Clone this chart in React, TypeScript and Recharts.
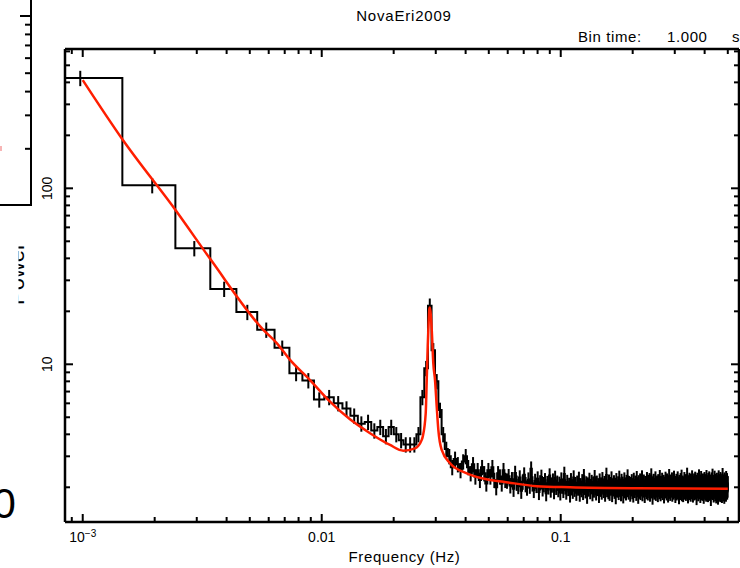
import React from "react";
import { ComposedChart, Line, XAxis, YAxis, ErrorBar } from "recharts";

// ---------------- data ----------------
// Power spectrum (Leahy normalised) of NovaEri2009, 1 s bins, 1024-s segments
const BIN_WIDTH_HZ = 1 / 1024;
const SEGMENTS = 100; // averaged segments -> error = P / sqrt(SEGMENTS)

// bins 1..30
const POWER_LOW = [
  423, 104, 45.6, 26.8, 19.8, 15.7, 12.4, 8.9, 8.1, 6.3,
  6.5, 6.0, 5.6, 5.1, 4.6, 4.7, 4.2, 4.4, 3.9, 4.4,
  4.0, 3.7, 3.5, 3.5, 3.5, 4.0, 6.5, 9.5, 21.5, 12.0,
];
// bins 31..60
const POWER_MID = [
  8.0, 5.5, 4.0, 3.3, 3.0, 2.6, 2.9, 2.7, 2.5, 2.8,
  3.0, 2.6, 2.4, 2.7, 2.3, 2.5, 2.2, 2.6, 2.4, 2.1,
  2.5, 2.3, 2.6, 2.2, 2.0, 2.4, 2.3, 2.1, 2.5, 2.2,
];
// bins 61..512
const POWER_HIGH = [
  2.18, 2.31, 2.05, 2.22, 1.96, 2.41, 2.12, 2.03, 2.27, 1.91, 2.15, 2.36, 2.08, 1.99, 2.21, 2.04, 2.55, 2.10, 1.93, 2.17,
  2.06, 2.24, 1.88, 2.13, 2.29, 1.97, 2.08, 2.19, 1.85, 2.11, 2.02, 2.33, 1.94, 2.07, 2.18, 1.90, 2.26, 2.01, 2.12, 1.95,
  2.09, 1.87, 2.21, 2.04, 1.93, 2.38, 2.02, 1.89, 2.14, 1.98, 2.06, 1.82, 2.19, 2.00, 1.91, 2.27, 1.96, 2.08, 1.86, 2.12,
  1.99, 2.23, 1.84, 2.05, 1.95, 2.16, 1.88, 2.31, 2.01, 1.92, 2.10, 1.79, 2.07, 1.97, 2.20, 1.90, 2.03, 2.14, 1.85, 2.09,
  1.94, 2.28, 2.00, 1.87, 2.12, 1.98, 2.05, 1.81, 2.18, 1.96, 2.07, 1.89, 2.22, 2.02, 1.93, 2.11, 1.84, 2.04, 2.35, 1.95,
  2.01, 1.90, 2.15, 1.86, 2.08, 1.99, 2.24, 1.83, 2.03, 1.97, 2.13, 1.91, 2.06, 1.78, 2.19, 2.00, 1.94, 2.10, 1.88, 2.26,
  1.96, 2.04, 1.85, 2.17, 1.99, 2.09, 1.80, 2.02, 2.21, 1.92, 2.07, 1.87, 2.14, 1.95, 2.30, 1.98, 1.89, 2.11, 2.03, 1.84,
  2.08, 1.97, 2.16, 1.90, 2.05, 1.82, 2.20, 1.99, 1.93, 2.12, 2.01, 1.86, 2.25, 1.95, 2.06, 1.79, 2.13, 2.00, 1.91, 2.18,
  1.88, 2.04, 1.97, 2.27, 1.85, 2.09, 1.94, 2.15, 2.02, 1.81, 2.11, 1.96, 2.07, 1.90, 2.22, 1.98, 1.87, 2.14, 2.03, 1.93,
  2.19, 1.84, 2.06, 1.99, 2.33, 1.92, 2.01, 1.77, 2.10, 1.95, 2.17, 1.89, 2.05, 1.98, 2.24, 1.86, 2.08, 1.94, 2.12, 2.00,
  1.83, 2.16, 1.96, 2.07, 1.90, 2.28, 1.99, 1.85, 2.11, 2.03, 1.93, 2.20, 1.88, 2.06, 1.97, 2.14, 1.80, 2.09, 2.01, 1.92,
  2.23, 1.95, 2.04, 1.87, 2.18, 1.98, 2.10, 1.82, 2.07, 1.96, 2.31, 1.91, 2.02, 1.86, 2.15, 1.99, 2.08, 1.94, 2.21, 1.84,
  2.05, 1.97, 2.13, 1.89, 2.26, 2.00, 1.93, 2.11, 1.81, 2.06, 1.98, 2.17, 1.87, 2.03, 1.95, 2.24, 1.90, 2.09, 1.99, 1.78,
  2.14, 1.96, 2.07, 1.88, 2.19, 2.02, 1.92, 2.29, 1.85, 2.05, 1.97, 2.12, 1.83, 2.08, 2.00, 1.94, 2.22, 1.89, 2.04, 1.96,
  2.16, 1.86, 2.10, 1.99, 1.91, 2.35, 1.98, 2.06, 1.80, 2.13, 1.95, 2.03, 1.88, 2.20, 2.01, 1.93, 2.09, 1.84, 2.17, 1.97,
  2.05, 1.90, 2.27, 1.96, 2.08, 1.82, 2.12, 2.00, 1.94, 2.18, 1.87, 2.04, 1.98, 2.23, 1.89, 2.07, 1.95, 2.14, 1.76, 2.02,
  1.99, 2.20, 1.92, 2.06, 1.85, 2.11, 1.97, 2.30, 1.90, 2.03, 1.95, 2.15, 1.81, 2.08, 1.99, 2.25, 1.88, 2.05, 1.94, 2.12,
  1.86, 2.01, 2.18, 1.93, 2.07, 1.79, 2.10, 1.98, 2.22, 1.91, 2.04, 1.87, 2.16, 1.96, 2.09, 1.84, 2.28, 2.00, 1.92, 2.13,
  1.97, 2.06, 1.83, 2.19, 1.95, 2.02, 1.89, 2.24, 1.98, 2.08, 1.86, 2.15, 1.93, 2.05, 1.74, 2.11, 1.99, 2.21, 1.90, 2.03,
  1.96, 2.32, 1.88, 2.09, 1.94, 2.14, 1.82, 2.07, 2.00, 1.91, 2.26, 1.97, 2.04, 1.85, 2.17, 1.95, 2.10, 1.80, 2.06, 1.98,
  2.20, 1.89, 2.03, 1.93, 2.13, 1.77, 2.08, 1.99, 2.27, 1.92, 2.05, 1.86, 2.16, 1.96, 2.01, 1.83, 2.22, 1.94, 2.09, 1.88,
  2.12, 1.97, 2.04, 1.81, 2.18, 1.95, 2.34, 1.90, 2.07, 1.99, 1.85, 2.14, 1.93, 2.06, 1.79, 2.21, 1.98, 2.02, 1.87, 2.15,
  1.96, 2.10, 1.84, 2.25, 1.92, 2.05, 1.97, 2.19, 1.89, 2.08, 1.94, 2.11,
];

// best-fit model (power law + Lorentzian QPO + white noise)
const MODEL_FREQ = [
  0.001, 0.001465, 0.002474, 0.003442, 0.005697, 0.006482, 0.007367, 0.008934,
  0.01083, 0.01313, 0.01593, 0.01931, 0.02195, 0.02457, 0.02621, 0.02646, 0.02723,
  0.0275, 0.02776, 0.02804, 0.0282, 0.02835, 0.0286, 0.02886, 0.0293, 0.02979,
  0.03028, 0.03076, 0.03177, 0.03442, 0.04044, 0.05061, 0.05752, 0.07933, 0.1094,
  0.208, 0.5,
];
const MODEL_POWER = [
  412, 190, 73.6, 39.1, 15.7, 13.2, 10.6, 8.14,
  6.13, 4.87, 4.06, 3.48, 3.23, 3.33, 3.72, 3.88, 5.27,
  8.14, 12.6, 17.9, 20.6, 21.0, 19.0, 15.7, 10.1, 8.1,
  5.74, 4.23, 3.26, 2.74, 2.4, 2.2, 2.15, 2.03, 2.0,
  1.975, 1.965,
];

const X_TICKS = [
  0.0009, 0.001, 0.002, 0.003, 0.004, 0.005, 0.006, 0.007, 0.008, 0.009,
  0.01, 0.02, 0.03, 0.04, 0.05, 0.06, 0.07, 0.08, 0.09,
  0.1, 0.2, 0.3, 0.4, 0.5,
];
const Y_TICKS = [
  2, 3, 4, 5, 6, 7, 8, 9, 10, 20, 30, 40, 50, 60, 70, 80, 90, 100, 200, 300, 400, 500, 600,
];
const X_DOMAIN: [number, number] = [0.000843, 0.557];
const Y_DOMAIN: [number, number] = [1.27, 619];

const TITLE = "NovaEri2009";
const BIN_LABEL = "Bin time:";
const BIN_VALUE = "1.000";
const BIN_UNIT = "s";
const X_LABEL = "Frequency (Hz)";

// ---------------- derived tables ----------------
const POWER = [...POWER_LOW, ...POWER_MID, ...POWER_HIGH];
const stepData = POWER.map((p, i) => ({ f: (i + 0.5) * BIN_WIDTH_HZ, p }));
stepData.push({ f: (POWER.length + 0.5) * BIN_WIDTH_HZ, p: POWER[POWER.length - 1] });
const pointData = POWER.map((p, i) => ({
  f: (i + 1) * BIN_WIDTH_HZ,
  p,
  e: p / Math.sqrt(SEGMENTS),
}));
const modelData = MODEL_FREQ.map((f, i) => ({ f, m: MODEL_POWER[i] }));

// ---------------- styling helpers ----------------
const FONT = "'Liberation Sans', Arial, Helvetica, sans-serif";
const isMajor = (v: number) => {
  const l = Math.log10(v);
  return Math.abs(l - Math.round(l)) < 1e-9;
};

const BottomTick = (props: any) => {
  const { x, y, payload } = props;
  const v = payload.value;
  const major = isMajor(v);
  let label: React.ReactNode = null;
  if (major) {
    if (v < 0.005) {
      label = (
        <text x={x} y={y + 20} textAnchor="middle" fontSize={14} fontFamily={FONT} fill="#000">
          10
          <tspan fontSize={10} dy={-5}>
            −3
          </tspan>
        </text>
      );
    } else {
      label = (
        <text x={x} y={y + 20} textAnchor="middle" fontSize={14} fontFamily={FONT} fill="#000">
          {String(v)}
        </text>
      );
    }
  }
  return (
    <g>
      <line x1={x} x2={x} y1={y} y2={y - (major ? 8 : 5)} stroke="#000" strokeWidth={2} />
      {label}
    </g>
  );
};

const TopTick = (props: any) => {
  const { x, y, payload } = props;
  const major = isMajor(payload.value);
  return <line x1={x} x2={x} y1={y} y2={y + (major ? 8 : 5)} stroke="#000" strokeWidth={2} />;
};

const LeftTick = (props: any) => {
  const { x, y, payload } = props;
  const v = payload.value;
  const major = isMajor(v);
  const lx = x - 12.5;
  return (
    <g>
      <line x1={x} x2={x + (major ? 8 : 5)} y1={y} y2={y} stroke="#000" strokeWidth={2} />
      {major && (
        <text
          x={lx}
          y={y}
          transform={`rotate(-90 ${lx} ${y})`}
          textAnchor="middle"
          fontSize={14}
          fontFamily={FONT}
          fill="#000"
        >
          {String(v)}
        </text>
      )}
    </g>
  );
};

const RightTick = (props: any) => {
  const { x, y, payload } = props;
  const major = isMajor(payload.value);
  return <line x1={x} x2={x - (major ? 8 : 5)} y1={y} y2={y} stroke="#000" strokeWidth={2} />;
};

// fragment of the neighbouring panel on the left edge
const FRAG_MINORS = [9, 8, 7, 6, 5, 4, 3, 2];

export default function App() {
  return (
    <div style={{ position: "absolute", left: 0, top: 0, width: 740, height: 568, background: "#fff" }}>
      <ComposedChart width={740} height={568} margin={{ top: 48, right: 0, bottom: 45, left: 64 }}>
        <XAxis
          xAxisId="b"
          dataKey="f"
          type="number"
          scale="log"
          domain={X_DOMAIN}
          allowDataOverflow
          ticks={X_TICKS}
          interval={0}
          height={1}
          tickSize={0}
          tickMargin={0}
          tickLine={false}
          tick={BottomTick}
          axisLine={{ stroke: "#000", strokeWidth: 2.5 }}
        />
        <XAxis
          xAxisId="t"
          orientation="top"
          dataKey="f"
          type="number"
          scale="log"
          domain={X_DOMAIN}
          allowDataOverflow
          ticks={X_TICKS}
          interval={0}
          height={1}
          tickSize={0}
          tickMargin={0}
          tickLine={false}
          tick={TopTick}
          axisLine={{ stroke: "#000", strokeWidth: 2.5 }}
        />
        <YAxis
          yAxisId="l"
          type="number"
          scale="log"
          domain={Y_DOMAIN}
          allowDataOverflow
          ticks={Y_TICKS}
          interval={0}
          width={1}
          tickSize={0}
          tickMargin={0}
          tickLine={false}
          tick={LeftTick}
          axisLine={{ stroke: "#000", strokeWidth: 2.5 }}
        />
        <YAxis
          yAxisId="r"
          orientation="right"
          type="number"
          scale="log"
          domain={Y_DOMAIN}
          allowDataOverflow
          ticks={Y_TICKS}
          interval={0}
          width={1}
          tickSize={0}
          tickMargin={0}
          tickLine={false}
          tick={RightTick}
          axisLine={{ stroke: "#000", strokeWidth: 2.5 }}
        />
        <Line
          xAxisId="b"
          yAxisId="l"
          data={stepData}
          dataKey="p"
          type="stepAfter"
          stroke="#000"
          strokeWidth={2}
          dot={false}
          isAnimationActive={false}
        />
        <Line
          xAxisId="b"
          yAxisId="l"
          data={pointData}
          dataKey="p"
          type="linear"
          stroke="none"
          dot={false}
          isAnimationActive={false}
        >
          <ErrorBar dataKey="e" direction="y" width={0} stroke="#000" strokeWidth={2} />
        </Line>
        <Line
          xAxisId="b"
          yAxisId="l"
          data={modelData}
          dataKey="m"
          type="monotone"
          stroke="#ff1e00"
          strokeWidth={2.5}
          dot={false}
          isAnimationActive={false}
        />
      </ComposedChart>
      <svg
        width={740}
        height={568}
        style={{ position: "absolute", left: 0, top: 0, pointerEvents: "none" }}
        fontFamily={FONT}
      >
        <defs>
          <clipPath id="fragClip">
            <rect x={18.5} y={200} width={12} height={130} />
          </clipPath>
        </defs>
        {/* neighbouring panel fragment */}
        <line x1={31} x2={31} y1={0} y2={205} stroke="#000" strokeWidth={2} />
        <line x1={0} x2={32} y1={205} y2={205} stroke="#000" strokeWidth={2} />
        <line x1={20} x2={31} y1={16} y2={16} stroke="#000" strokeWidth={2} />
        {FRAG_MINORS.map((m) => {
          const y = 16 + 190 * (1 - Math.log10(m));
          return <line key={m} x1={25} x2={31} y1={y} y2={y} stroke="#000" strokeWidth={2} />;
        })}
        <rect x={0} y={146} width={2} height={5} fill="#f7b5b5" />
        <g clipPath="url(#fragClip)">
          <text x={24} y={305} transform="rotate(-90 24 305)" fontSize={22} fill="#000">
            Power
          </text>
        </g>
        <text x={-7.5} y={518} fontSize={42} fill="#000">
          0
        </text>
        {/* titles */}
        <text x={404} y={20.5} textAnchor="middle" fontSize={15} letterSpacing={0.8} fill="#000">
          {TITLE}
        </text>
        <text x={578} y={42} fontSize={15} letterSpacing={0.6} fill="#000">
          {BIN_LABEL}
        </text>
        <text x={667} y={42} fontSize={15} letterSpacing={0.6} fill="#000">
          {BIN_VALUE}
        </text>
        <text x={732} y={42} fontSize={15} fill="#000">
          {BIN_UNIT}
        </text>
        <text x={404.5} y={562} textAnchor="middle" fontSize={15} letterSpacing={0.6} fill="#000">
          {X_LABEL}
        </text>
      </svg>
    </div>
  );
}
